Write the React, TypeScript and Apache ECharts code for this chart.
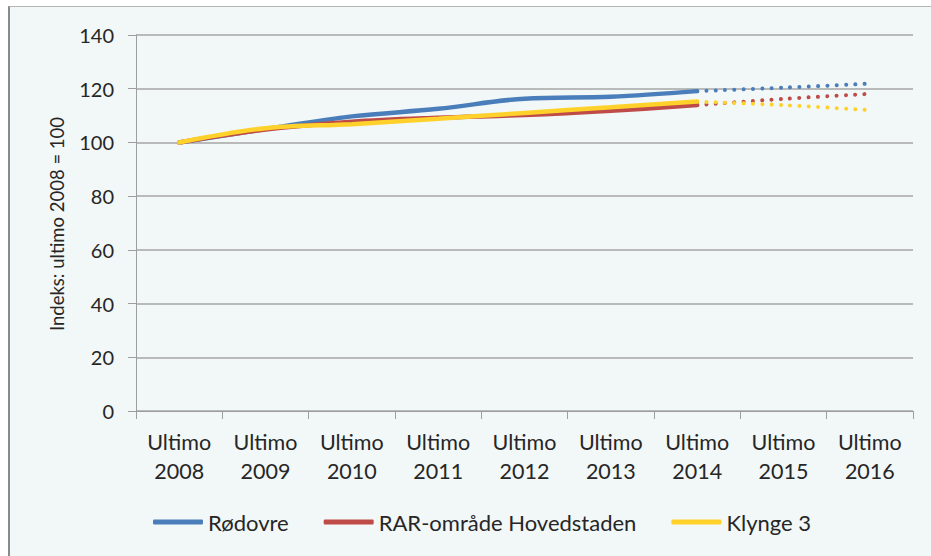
import React, { useEffect, useRef } from "react";
import * as echarts from "echarts";

const years = ["2008", "2009", "2010", "2011", "2012", "2013", "2014", "2015", "2016"];
const categories = years.map((y) => "Ultimo\n" + y);
const rodovre = [100, 105, 109.7, 112.5, 116.3, 117, 119.1];
const rar = [100, 104.8, 107.7, 109.2, 110.2, 111.8, 113.9];
const klynge = [100, 105.3, 106.8, 108.8, 111, 113.1, 115.2];
// projections for 2014, 2015, 2016
const rodovreProj = [119.1, 120.4, 121.9];
const rarProj = [113.9, 116.2, 118.1];
const klyngeProj = [115.2, 113.9, 112];
const yTicks = { min: 0, max: 140, interval: 20 };
const yAxisTitle = "Indeks: ultimo 2008 = 100";

const names = ["Rødovre", "RAR-område Hovedstaden", "Klynge 3"];
const colors = ["#4A7EBB", "#BE4B48", "#FFD12A"];

const FONT = "Lato";

function solid(vals: number[]) {
  return categories.map((_, i) => (i < vals.length ? vals[i] : null));
}
function proj(vals: number[]) {
  const start = 6;
  return categories.map((_, i) => (i >= start && i - start < vals.length ? vals[i - start] : null));
}

export default function App() {
  const ref = useRef<HTMLDivElement>(null);
  useEffect(() => {
    if (!ref.current) return;
    const chart = echarts.init(ref.current, undefined, { renderer: "svg" });
    const solidSets = [rodovre, rar, klynge];
    const projSets = [rodovreProj, rarProj, klyngeProj];
    const series: any[] = [];
    solidSets.forEach((s, i) => {
      series.push({
        name: names[i],
        type: "line",
        data: solid(s),
        smooth: 0.35,
        showSymbol: false,
        symbol: "none",
        connectNulls: false,
        lineStyle: { color: colors[i], width: 4.5, cap: "round" },
        itemStyle: { color: colors[i] },
        z: 3 + i,
      });
    });
    projSets.forEach((s, i) => {
      series.push({
        name: names[i] + " prognose",
        type: "line",
        data: proj(s),
        smooth: 0.35,
        showSymbol: false,
        symbol: "none",
        lineStyle: { color: colors[i], width: 4, type: [0.01, 9.3], cap: "round" },
        itemStyle: { color: colors[i] },
        z: 3 + i,
      });
    });
    chart.setOption({
      animation: false,
      backgroundColor: "transparent",
      textStyle: { fontFamily: FONT },
      grid: { left: 126, right: 18, top: 28, bottom: 145, containLabel: false },
      legend: {
        data: names,
        bottom: 18,
        left: 138,
        icon: "roundRect",
        itemWidth: 50,
        itemHeight: 5,
        itemGap: 35,
        textStyle: { fontFamily: FONT, fontSize: 22, color: "#262626" },
      },
      graphic: [
        {
          type: "text",
          x: 47,
          y: 217,
          rotation: Math.PI / 2,
          style: {
            text: yAxisTitle,
            fontFamily: FONT,
            fontSize: 18.5,
            fill: "#262626",
            align: "center",
            verticalAlign: "middle",
          },
        },
      ],
      xAxis: {
        type: "category",
        data: categories,
        boundaryGap: true,
        axisLine: { lineStyle: { color: "#9E9E9E", width: 1 } },
        axisTick: { show: true, length: 8, lineStyle: { color: "#9E9E9E" } },
        axisLabel: {
          fontFamily: FONT,
          fontSize: 21.5,
          color: "#262626",
          lineHeight: 29,
          margin: 16,
          interval: 0,
        },
      },
      yAxis: {
        type: "value",
        min: yTicks.min,
        max: yTicks.max,
        interval: yTicks.interval,
        axisLine: { show: true, lineStyle: { color: "#9E9E9E", width: 1 } },
        axisTick: { show: true, length: 8, lineStyle: { color: "#9E9E9E" } },
        axisLabel: { fontFamily: FONT, fontSize: 20, color: "#262626", margin: 22 },
        splitLine: { show: true, lineStyle: { color: "#A6A6A6", width: 1.5 } },
      },
      series,
    });
    return () => chart.dispose();
  }, []);

  return (
    <div style={{ position: "fixed", left: 0, top: 0, width: 931, height: 556, background: "#fff", overflow: "hidden" }}>
      <div
        style={{
          position: "absolute",
          left: 8,
          top: 6,
          width: 931,
          height: 560,
          background: "#F2F7F7",
          borderLeft: "2px solid #8A8A8A",
          borderTop: "1px solid #B5B5B5",
        }}
      >
        <div ref={ref} style={{ width: 921, height: 549 }} />
      </div>
    </div>
  );
}
